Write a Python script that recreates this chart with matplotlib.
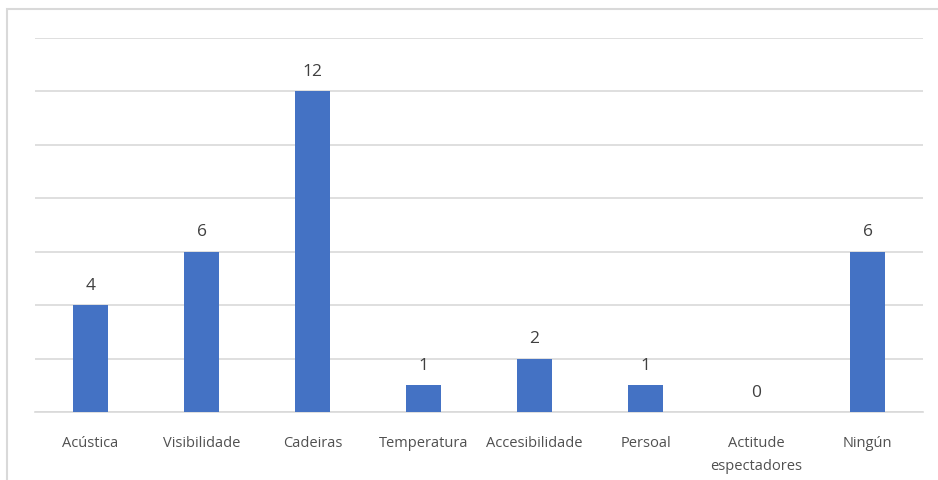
import matplotlib.pyplot as plt
from matplotlib.patches import Rectangle

categorias = ['Acústica', 'Visibilidade', 'Cadeiras', 'Temperatura', 'Accesibilidade',
              'Persoal', 'Actitude\nespectadores', 'Ningún']
valores = [4, 6, 12, 1, 2, 1, 0, 6]

plt.rcParams['font.family'] = ['Open Sans', 'DejaVu Sans']

W, H = 938, 481
fig = plt.figure(figsize=(W / 100, H / 100), dpi=100)

# marco do gráfico
fig.patches.append(Rectangle((7 / W, -0.1), 1.1, 1 - 10 / H + 0.1, transform=fig.transFigure,
                             fill=False, edgecolor='#d9d9d9', linewidth=1.5))

ax = fig.add_axes([35 / W, 1 - 413 / H, (923 - 35) / W, (413 - 38.5) / H])
x = range(len(categorias))
barras = ax.bar(x, valores, width=0.31, color='#4472C4', zorder=3)

for xi, v in zip(x, valores):
    ax.text(xi, v + 0.45, str(v), ha='center', va='bottom', fontsize=12.5, color='#404040')

ax.set_xlim(-0.5, len(categorias) - 0.5)
ax.set_ylim(0, 14)
ax.set_yticks(range(0, 15, 2))
ax.yaxis.grid(True, color='#d9d9d9', linewidth=1.2)
ax.tick_params(axis='y', left=False, labelleft=False)
ax.tick_params(axis='x', bottom=False, pad=13, labelsize=10.5, colors='#505050')
ax.set_xticks(list(x))
ax.set_xticklabels(categorias, linespacing=1.75, va='top')
for s in ['top', 'right', 'left']:
    ax.spines[s].set_visible(False)
ax.spines['bottom'].set_color('#d9d9d9')
ax.spines['bottom'].set_linewidth(1.2)

fig.savefig('out.png', dpi=100)
